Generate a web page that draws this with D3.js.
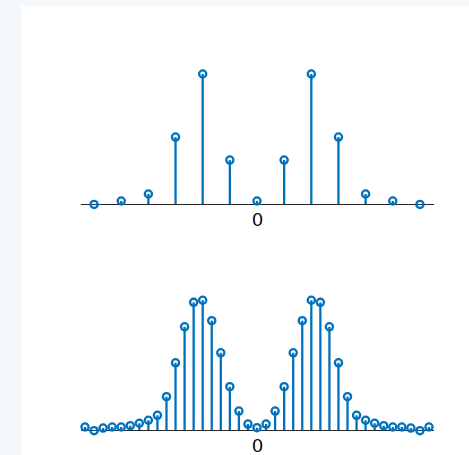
<!DOCTYPE html>
<html>
<head>
<meta charset="utf-8">
<script src="https://cdn.jsdelivr.net/npm/d3@7"></script>
<style>
  html, body { margin: 0; padding: 0; background: #f3f8fd; }
  svg { display: block; }
</style>
</head>
<body>
<script>
// Coarse spectrum: 13 bins, k = -6..6
const kCoarse = d3.range(-6, 7);
const magCoarse = [-0.003, 0.023, 0.077, 0.515, 1.0, 0.338, 0.023, 0.338, 1.0, 0.515, 0.077, 0.023, -0.003];

// Fine (zero-padded) spectrum: 39 bins, k = -19..19
const kFine = d3.range(-19, 20);
const magFine = [
  0.023, -0.005, 0.015, 0.023, 0.023, 0.033, 0.052, 0.075, 0.113, 0.256,
  0.517, 0.794, 0.982, 0.998, 0.841, 0.594, 0.333, 0.146, 0.046, 0.018,
  0.046, 0.146, 0.333, 0.594, 0.841, 0.998, 0.982, 0.794, 0.517, 0.256,
  0.113, 0.075, 0.052, 0.033, 0.023, 0.023, 0.015, -0.005, 0.023
];

const xTicks = [0];

const W = 469, H = 455;
const blue = "#0072bd";
const axisColor = "#262626";

const svg = d3.select("body").append("svg")
  .attr("width", W).attr("height", H);

svg.append("rect").attr("width", W).attr("height", H).attr("fill", "#f3f8fd");
svg.append("rect").attr("x", 21).attr("y", 6).attr("width", W - 21).attr("height", H - 6).attr("fill", "#ffffff");

function stemPanel(ks, vals, xDomain, yRange) {
  const x = d3.scaleLinear().domain(xDomain).range([80.5, 433.5]);
  const y = d3.scaleLinear().domain([-0.1, 1.1]).range(yRange);
  const g = svg.append("g");

  // axis through the origin
  const axis = d3.axisBottom(x).tickValues(xTicks).tickSize(0).tickSizeOuter(0).tickFormat(d3.format("d"));
  const ag = g.append("g").attr("transform", `translate(0,${y(0)})`).call(axis);
  ag.select(".domain").attr("stroke", axisColor).attr("stroke-width", 1.2);
  ag.selectAll(".tick text")
    .attr("fill", "#000")
    .attr("font-family", "'Liberation Sans', Arial, sans-serif")
    .attr("font-size", 19)
    .attr("y", 22).attr("dy", 0);

  const data = ks.map((k, i) => ({ k, v: vals[i] }));

  g.selectAll("line.stem").data(data).join("line")
    .attr("class", "stem")
    .attr("x1", d => x(d.k)).attr("x2", d => x(d.k))
    .attr("y1", y(0)).attr("y2", d => y(d.v))
    .attr("stroke", blue).attr("stroke-width", 2.3);

  g.selectAll("circle.mk").data(data).join("circle")
    .attr("class", "mk")
    .attr("cx", d => x(d.k)).attr("cy", d => y(d.v))
    .attr("r", 3.6)
    .attr("fill", "none")
    .attr("stroke", blue).attr("stroke-width", 2.3);
}

stemPanel(kCoarse, magCoarse, [-6.5, 6.5], [217, 61]);
stemPanel(kFine, magFine, [-19.5, 19.5], [443, 287]);
</script>
</body>
</html>
